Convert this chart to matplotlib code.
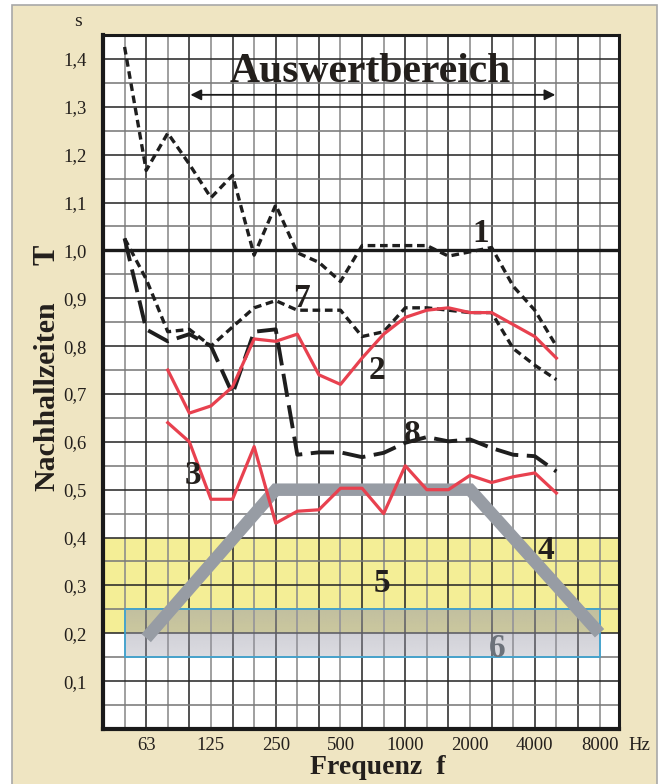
import matplotlib
matplotlib.use('Agg')
import matplotlib.pyplot as plt
import numpy as np
from matplotlib.patches import Rectangle

# third-octave bands (index 0 = 50 Hz)
bands = ['50', '63', '80', '100', '125', '160', '200', '250', '315', '400', '500',
         '630', '800', '1000', '1250', '1600', '2000', '2500', '3150', '4000',
         '5000', '6300', '8000']
tick_labels = ['63', '125', '250', '500', '1000', '2000', '4000', '8000']
ytick_vals = [0.1, 0.2, 0.3, 0.4, 0.5, 0.6, 0.7, 0.8, 0.9, 1.0, 1.1, 1.2, 1.3, 1.4]

# curves 1, 7, 8: 50 Hz .. 5000 Hz
curve1 = [1.425, 1.167, 1.245, 1.18, 1.11, 1.157, 0.99, 1.095, 0.995, 0.975, 0.935,
          1.01, 1.01, 1.01, 1.01, 0.988, 0.997, 1.006, 0.925, 0.875, 0.80]
curve7 = [1.025, 0.94, 0.83, 0.835, 0.80, 0.84, 0.88, 0.895, 0.875, 0.875, 0.875,
          0.82, 0.83, 0.88, 0.88, 0.875, 0.87, 0.87, 0.795, 0.76, 0.73]
curve8 = [1.025, 0.835, 0.81, 0.825, 0.80, 0.70, 0.83, 0.835, 0.573, 0.578, 0.578,
          0.568, 0.577, 0.598, 0.61, 0.601, 0.605, 0.587, 0.573, 0.57, 0.538]
# curves 2, 3: 80 Hz .. 5000 Hz
curve2 = [0.75, 0.66, 0.675, 0.715, 0.815, 0.81, 0.825, 0.74, 0.72, 0.775, 0.825,
          0.86, 0.875, 0.88, 0.87, 0.87, 0.845, 0.82, 0.775]
curve3 = [0.64, 0.60, 0.48, 0.48, 0.59, 0.43, 0.455, 0.458, 0.503, 0.503, 0.45,
          0.55, 0.50, 0.50, 0.53, 0.515, 0.527, 0.535, 0.493]
# tolerance outline (curve 4 trapezoid)
tol_bands = ['63', '250', '2000', '8000']
tol_vals = [0.19, 0.50, 0.50, 0.20]
# shaded ranges
yellow_range = (0.2, 0.4)
gray_range = (0.15, 0.25)
gray_bands = ('50', '8000')

idx = {b: i for i, b in enumerate(bands)}
serif = ['Liberation Serif', 'DejaVu Serif']
txt = '#231f1c'
beige = '#efe5c2'

fig = plt.figure(figsize=(6.64, 7.84), dpi=100)
fig.patch.set_facecolor('white')
fig.patches.append(Rectangle((12 / 664, -0.01), (657 - 12) / 664, 1 - 5 / 784 + 0.01,
                             transform=fig.transFigure, facecolor=beige,
                             edgecolor='#a8a8a8', linewidth=1.2, zorder=-10))

ax = fig.add_axes([103 / 664, 1 - 729 / 784, (619 - 103) / 664, (729 - 35) / 784])
ax.set_zorder(5)
ax.set_facecolor('white')
ax.set_xlim(-1, 22.9)
ax.set_ylim(0, 1.45)

# yellow band
ax.axhspan(yellow_range[0], yellow_range[1], color='#f4ee96', zorder=0.5, lw=0)

# grid
for i in range(len(bands)):
    ax.axvline(i, color='#2a2a2a' if i % 2 else '#8a8a8a', lw=1.15, zorder=1)
for k in range(1, 29):
    y = k * 0.05
    ax.axhline(y, color='#2a2a2a' if k % 2 == 0 else '#7a7a7a', lw=1.15, zorder=1)
ax.axhline(1.0, color='#1a1a1a', lw=2.4, zorder=1.2)

# gray translucent band
x0, x1 = idx[gray_bands[0]], idx[gray_bands[1]]
grad = np.zeros((50, 2, 4))
grad[..., 0] = 0.60
grad[..., 1] = 0.60
grad[..., 2] = 0.66
grad[..., 3] = np.linspace(0.55, 0.35, 50)[:, None]
ax.imshow(grad, extent=(x0, x1, gray_range[0], gray_range[1]), origin='upper',
          aspect='auto', zorder=1.5, interpolation='bilinear')
ax.add_patch(Rectangle((x0, gray_range[0]), x1 - x0, gray_range[1] - gray_range[0],
                       fill=False, edgecolor='#3aa6d6', lw=1.2, zorder=1.6))
ax.set_xlim(-1, 22.9)
ax.set_ylim(0, 1.45)

# tolerance outline
ax.plot([idx[b] for b in tol_bands], tol_vals, color='#979ca4', lw=9,
        solid_joinstyle='miter', solid_capstyle='butt', zorder=2.5)

x17 = np.arange(len(curve1))
ax.plot(x17, curve1, color='#1e1e1e', lw=2.4, dashes=(2.3, 1.4), zorder=3)
ax.plot(x17, curve7, color='#1e1e1e', lw=2.4, dashes=(2.3, 1.4), zorder=3)
ax.plot(x17, curve8, color='#1e1e1e', lw=2.8, dashes=(6, 2.2), zorder=3)
x23 = np.arange(idx['80'], idx['80'] + len(curve2))
ax.plot(x23, curve2, color='#e8414f', lw=2.3, zorder=3.2)
ax.plot(x23, curve3, color='#e8414f', lw=2.3, zorder=3.2)

# curve number labels
labels = [('1', 16.5, 1.035, txt), ('7', 8.2, 0.90, txt), ('2', 11.67, 0.75, txt),
          ('8', 13.33, 0.615, txt), ('3', 3.15, 0.53, txt), ('4', 19.5, 0.372, txt),
          ('5', 11.9, 0.304, txt), ('6', 17.27, 0.168, '#6c727a')]
for s, xx, yy, c in labels:
    ax.text(xx, yy, s, family=serif, fontweight='bold', fontsize=24, color=c,
            ha='center', va='center', zorder=5)

# title and range arrow
ax.text(11.4, 1.352, 'Auswertbereich', family=serif, fontweight='bold', fontsize=30,
        color=txt, ha='center', va='baseline', zorder=5)
ax.annotate('', xy=(idx['5000'] - 0.05, 1.325), xytext=(idx['100'] + 0.05, 1.325),
            arrowprops=dict(arrowstyle='<|-|>', color='#1a1a1a', lw=1.3,
                            mutation_scale=16, shrinkA=0, shrinkB=0), zorder=5)

# spines
for side, w in [('left', 3.0), ('bottom', 3.0), ('top', 2.2), ('right', 2.2)]:
    ax.spines[side].set_linewidth(w)
    ax.spines[side].set_color('#1a1a1a')
    ax.spines[side].set_zorder(6)

ax.set_xticks([idx[t] for t in tick_labels])
ax.set_xticklabels(tick_labels, family=serif, fontsize=13.5, color=txt)
ax.set_yticks(ytick_vals)
ax.set_yticklabels([f'{v:.1f}'.replace('.', ',') for v in ytick_vals],
                   family=serif, fontsize=13.5, color=txt)
ax.tick_params(axis='both', length=0)
ax.tick_params(axis='y', pad=12)
ax.tick_params(axis='x', pad=6)

fig.text(639 / 664, 1 - 745 / 784, 'Hz', family=serif, fontsize=13.5, color=txt,
         ha='center', va='center')
fig.text(78 / 664, 1 - 22 / 784, 's', family=serif, fontsize=14, color=txt,
         ha='center', va='center')
fig.text(378 / 664, 1 - 768 / 784, 'Frequenz  f', family=serif, fontweight='bold',
         fontsize=20, color=txt, ha='center', va='center')
fig.text(47 / 664, 1 - 396 / 784, 'Nachhallzeiten', family=serif, fontweight='bold',
         fontsize=21.5, color=txt, ha='center', va='center', rotation=90)
fig.text(47 / 664, 1 - 255 / 784, 'T', family=serif, fontweight='bold',
         fontsize=22, color=txt, ha='center', va='center', rotation=90)

fig.savefig('out.png', dpi=100, facecolor=fig.get_facecolor())
